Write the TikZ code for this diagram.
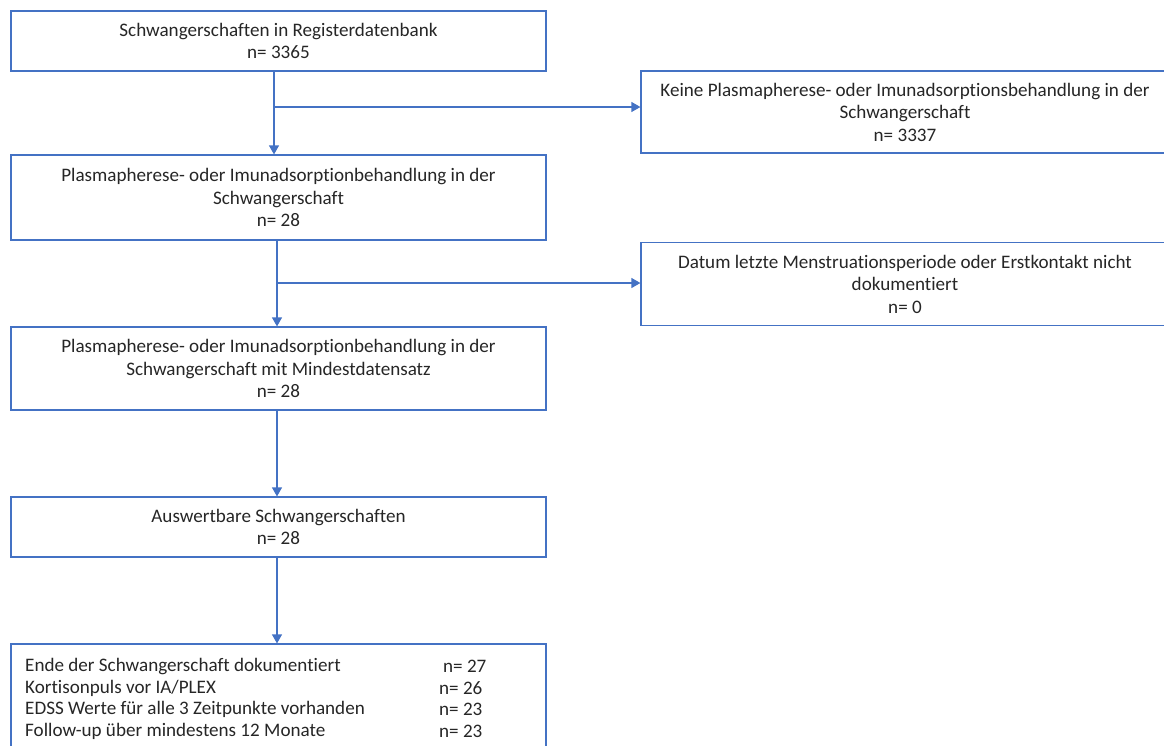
\documentclass[tikz,border=0pt]{standalone}
\usepackage{fontspec}
\setmainfont[Ligatures=NoCommon]{Carlito}
\usetikzlibrary{arrows.meta}
\definecolor{lineblue}{HTML}{4472C4}
\definecolor{txt}{HTML}{262626}
\begin{document}
\begin{tikzpicture}[x=1pt,y=-1pt,
  box/.style={draw=lineblue, line width=1.2pt, rectangle, inner sep=0pt, font=\fontsize{19.1}{22.5}\selectfont, text=txt, align=center},
  arr/.style={draw=lineblue, line width=1.2pt, -{Triangle[width=10pt,length=9pt]}},
  lft/.style={font=\fontsize{19.1}{22.5}\selectfont, text=txt, inner sep=0pt, anchor=west}]
\useasboundingbox (0,0) rectangle (1164,745);
\clip (0,0) rectangle (1164,745);
\node[box, minimum width=535, minimum height=60] (b1) at (278.5,41) {Schwangerschaften in Registerdatenbank\\n= 3365};
\node[box, minimum width=535, minimum height=85] (b2) at (278.5,197.5) {Plasmapherese- oder Imunadsorptionbehandlung in der\\Schwangerschaft\\n= 28};
\node[box, minimum width=535, minimum height=83] (b3) at (278.5,368.5) {Plasmapherese- oder Imunadsorptionbehandlung in der\\Schwangerschaft mit Mindestdatensatz\\n= 28};
\node[box, minimum width=535, minimum height=60] (b4) at (278.5,527) {Auswertbare Schwangerschaften\\n= 28};
\node[box, minimum width=535, minimum height=130] (b5) at (278.5,709) {};
\node[lft] (l1) at (25,666) {Ende der Schwangerschaft dokumentiert};
\node[lft] (l2) at (25,688) {Kortisonpuls vor IA/PLEX};
\node[lft] (l3) at (25,709.5) {EDSS Werte für alle 3 Zeitpunkte vorhanden};
\node[lft] (l4) at (25,731) {Follow-up über mindestens 12 Monate};
\node[lft] (n1) at (443,666) {n= 27};
\node[lft] (n2) at (439,688) {n= 26};
\node[lft] (n3) at (439,709.5) {n= 23};
\node[lft] (n4) at (439,731) {n= 23};
\node[box, minimum width=528, minimum height=82] (r1) at (905,112) {Keine Plasmapherese- oder Imunadsorptionsbehandlung in der\\Schwangerschaft\\n= 3337};
\node[box, minimum width=528, minimum height=83] (r2) at (905,284) {Datum letzte Menstruationsperiode oder Erstkontakt nicht\\dokumentiert\\n= 0};
\coordinate (j1) at (274,107);
\coordinate (j2) at (277,283);
\draw[arr] ([xshift=-4.5pt]b1.south) -- ([xshift=-4.5pt]b1.south |- b2.north);
\draw[arr] (j1) -- (j1 -| r1.west);
\draw[arr] ([xshift=-1.5pt]b2.south) -- ([xshift=-1.5pt]b2.south |- b3.north);
\draw[arr] (j2) -- (j2 -| r2.west);
\draw[arr] ([xshift=-1.5pt]b3.south) -- ([xshift=-1.5pt]b3.south |- b4.north);
\draw[arr] ([xshift=-1.5pt]b4.south) -- ([xshift=-1.5pt]b4.south |- b5.north);
\end{tikzpicture}
\end{document}
